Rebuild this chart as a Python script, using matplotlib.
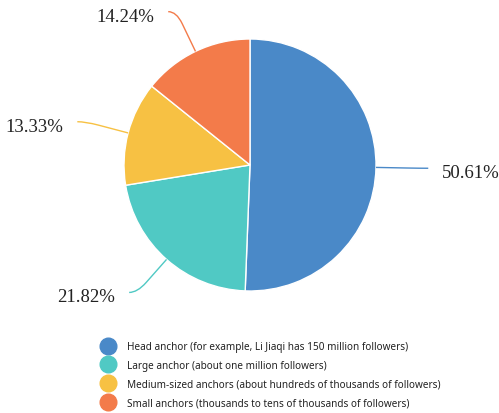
import numpy as np
import matplotlib
matplotlib.use("Agg")
import matplotlib.pyplot as plt
from matplotlib.path import Path
from matplotlib.patches import PathPatch
from matplotlib.lines import Line2D

# Share of live-streaming anchors by follower tier
categories = [
    "Head anchor (for example, Li Jiaqi has 150 million followers)",
    "Large anchor (about one million followers)",
    "Medium-sized anchors (about hundreds of thousands of followers)",
    "Small anchors (thousands to tens of thousands of followers)",
]
shares = [50.61, 21.82, 13.33, 14.24]
colors = ["#4a89c8", "#50c9c4", "#f7c143", "#f37b4a"]

W, H = 499, 414
fig = plt.figure(figsize=(W / 100, H / 100), dpi=100)

# pie axes: centre (250, 166) px, radius 126 px
cx, cy, r = 250, 166, 126
ax = fig.add_axes([(cx - r) / W, (H - cy - r) / H, 2 * r / W, 2 * r / H])
wedges, _ = ax.pie(shares, colors=colors, startangle=90, counterclock=False,
                   radius=1, wedgeprops=dict(edgecolor="white", linewidth=1.0))
ax.set_xlim(-1, 1)
ax.set_ylim(-1, 1)
ax.set_aspect("equal")
ax.axis("off")

# leader lines and percentage labels
len1, len2, gap = 0.35, 0.065, 0.11
for w, v, c in zip(wedges, shares, colors):
    ang = np.deg2rad((w.theta1 + w.theta2) / 2)
    d = np.array([np.cos(ang), np.sin(ang)])
    side = 1 if d[0] >= 0 else -1
    p0 = d * 1.0
    pa = d * (1 + len1 * 0.7)
    p1 = d * (1 + len1)
    p2 = p1 + np.array([side * len2, 0])
    path = Path([p0, pa, p1, p2],
                [Path.MOVETO, Path.LINETO, Path.CURVE3, Path.CURVE3])
    ax.add_patch(PathPatch(path, fill=False, edgecolor=c, linewidth=1.0,
                           clip_on=False))
    ax.text(p2[0] + side * gap, p2[1] - 0.035, f"{v:.2f}%",
            ha="left" if side > 0 else "right", va="center",
            fontsize=13.5, family="Liberation Serif", color="#222222",
            clip_on=False)

# legend with round markers
handles = [Line2D([], [], linestyle="none", marker="o", markersize=12,
                  markerfacecolor=c, markeredgecolor=c) for c in colors]
fig.legend(handles, categories, loc="upper left",
           bbox_to_anchor=(102 / W, 1 - 342 / H), frameon=False,
           prop=dict(family="Noto Sans", size=7.2), labelspacing=0.78,
           handlelength=1.2, handletextpad=1.3, borderpad=0,
           borderaxespad=0, labelcolor="#222222")

fig.savefig("out.png", dpi=100, facecolor="white")
